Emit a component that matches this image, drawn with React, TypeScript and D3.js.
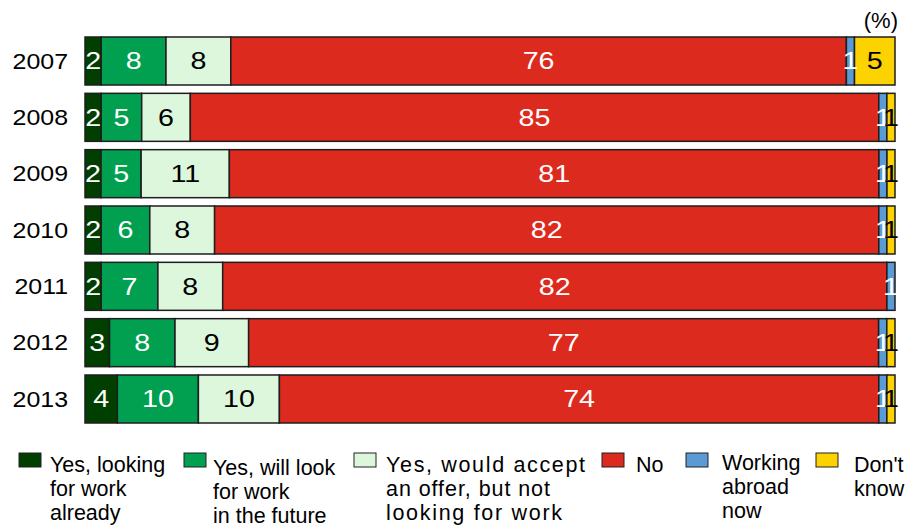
import React from "react";
import * as d3 from "d3";

const years = ["2007", "2008", "2009", "2010", "2011", "2012", "2013"];
const lookingAlready = [2, 2, 2, 2, 2, 3, 4];
const willLook = [8, 5, 5, 6, 7, 8, 10];
const wouldAccept = [8, 6, 11, 8, 8, 9, 10];
const noValues = [76, 85, 81, 82, 82, 77, 74];
const abroad = [1, 1, 1, 1, 1, 1, 1];
const dontKnow = [5, 1, 1, 1, 0, 1, 1];

const seriesKeys = ["lookingAlready", "willLook", "wouldAccept", "no", "abroad", "dontKnow"];
const seriesColors = ["#003f00", "#00a050", "#dcf7dc", "#dd2a1e", "#5b9bd5", "#fcd200"];
const labelColors = ["#ffffff", "#ffffff", "#000000", "#ffffff", "#ffffff", "#000000"];
const legendLabels = [
  ["Yes, looking", "for work", "already"],
  ["Yes, will look", "for work", "in the future"],
  ["Yes, would accept", "an offer, but not", "looking for work"],
  ["No"],
  ["Working", "abroad", "now"],
  ["Don't", "know"],
];

const W = 911;
const H = 532;

export default function App() {
  const rows = years.map((y, i) => ({
    year: y,
    lookingAlready: lookingAlready[i],
    willLook: willLook[i],
    wouldAccept: wouldAccept[i],
    no: noValues[i],
    abroad: abroad[i],
    dontKnow: dontKnow[i],
  }));
  const stack = d3.stack<any>().keys(seriesKeys).offset(d3.stackOffsetExpand);
  const series = stack(rows);

  const x = d3.scaleLinear().domain([0, 1]).range([85, 895]);
  const y = d3
    .scaleBand()
    .domain(years)
    .range([37 - 4.165, 423 + 4.165])
    .paddingInner(0.1479)
    .paddingOuter(0.074);

  // legend layout
  const legSquareX = [19, 184, 354, 602, 686, 816];
  const legTextX = [50, 213, 386, 636, 722, 854];
  const legYOffset = [0, 3, 0, 0, -2, 0];
  // item 3 is drawn letter-spaced in the reference
  const spacedLengths: (number | null)[][] = [
    [null, null, null],
    [null, null, null],
    [199, 164, 176],
    [null],
    [null, null, null],
    [null, null],
  ];

  return (
    <div style={{ position: "fixed", left: 0, top: 0, width: W, height: H, overflow: "hidden" }}>
      <svg
        width={W}
        height={H}
        style={{ display: "block", fontFamily: "'Liberation Sans', Arial, sans-serif" }}
      >
        <rect width={W} height={H} fill="#ffffff" />
        {series.map((s, si) => (
          <g key={s.key}>
            {s.map((d, i) => {
              const w = x(d[1]) - x(d[0]);
              if (w <= 0) return null;
              return (
                <rect
                  key={i}
                  x={x(d[0])}
                  y={y(years[i])}
                  width={w}
                  height={y.bandwidth()}
                  fill={seriesColors[si]}
                  stroke="#1e1e1e"
                  strokeWidth={1.5}
                />
              );
            })}
          </g>
        ))}
        {series.map((s, si) => (
          <g key={"l" + s.key}>
            {s.map((d, i) => {
              const v = (rows[i] as any)[s.key];
              if (!v) return null;
              const cx = (x(d[0]) + x(d[1])) / 2;
              const cy = (y(years[i]) as number) + y.bandwidth() / 2;
              return (
                <text
                  key={i}
                  transform={`translate(${cx},${cy}) scale(1.22,1)`}
                  dy="0.36em"
                  textAnchor="middle"
                  fontSize={23.5}
                  fill={labelColors[si]}
                >
                  {v}
                </text>
              );
            })}
          </g>
        ))}
        {years.map((yr) => (
          <text
            key={yr}
            transform={`translate(68,${(y(yr) as number) + y.bandwidth() / 2}) scale(1.16,1)`}
            dy="0.36em"
            textAnchor="end"
            fontSize={21.5}
            fill="#000"
          >
            {yr}
          </text>
        ))}
        <text x={898} y={28} textAnchor="end" fontSize={22} fill="#000">
          (%)
        </text>
        {legendLabels.map((lines, li) => (
          <g key={li}>
            <rect
              x={legSquareX[li]}
              y={453}
              width={22}
              height={14}
              fill={seriesColors[li]}
              stroke="#222"
              strokeWidth={1}
            />
            {lines.map((ln, k) => {
              const tl = spacedLengths[li][k];
              return (
                <text
                  key={k}
                  x={legTextX[li]}
                  y={472 + legYOffset[li] + k * 24}
                  fontSize={21.5}
                  fill="#000"
                  {...(tl ? { textLength: tl, lengthAdjust: "spacing" } : {})}
                >
                  {ln}
                </text>
              );
            })}
          </g>
        ))}
      </svg>
    </div>
  );
}
